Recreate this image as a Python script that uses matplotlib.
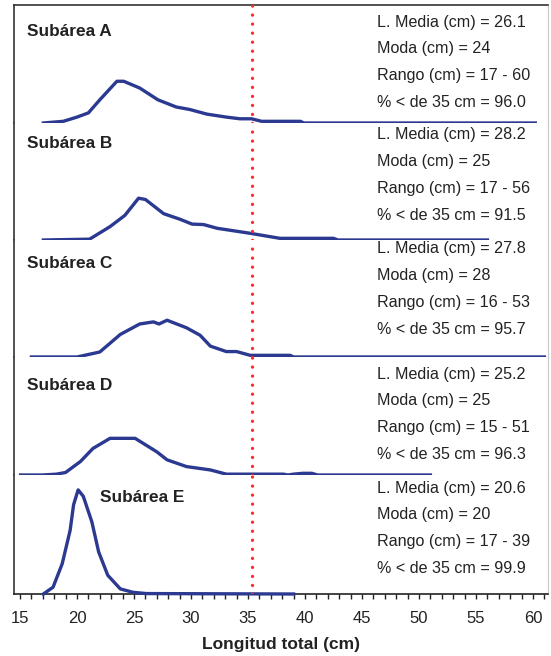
import matplotlib
matplotlib.use("Agg")
import matplotlib.pyplot as plt
from matplotlib.ticker import MultipleLocator

# length-frequency curves (x in cm, y in %)
A_x = [17.05, 18.8, 20.0, 21.0, 22.0, 23.5, 24.1, 25.5, 27.1, 28.7, 29.9, 31.4, 33.1, 34.3, 35.3, 36.2, 39.6, 39.9, 60.2]
A_y = [0, 0.4, 1.4, 2.4, 5.5, 9.9, 9.9, 8.3, 5.5, 3.8, 3.2, 2.1, 1.4, 1.0, 1.0, 0.4, 0.4, 0, 0]

B_x = [17.05, 21.1, 22.9, 24.2, 25.4, 26.0, 27.6, 29.0, 30.1, 31.1, 32.3, 35.2, 37.8, 42.5, 42.9, 56.0]
B_y = [0, 0.2, 3.2, 5.9, 10.0, 9.7, 6.3, 5.0, 3.8, 3.7, 2.8, 1.6, 0.4, 0.4, 0, 0]

C_x = [16.0, 20.0, 22.0, 23.8, 25.5, 26.7, 27.2, 27.9, 29.6, 30.8, 31.7, 33.1, 34.0, 35.2, 38.7, 39.0, 61.0]
C_y = [0, 0, 1.2, 5.4, 7.9, 8.4, 7.9, 8.8, 7.0, 5.2, 2.6, 1.3, 1.3, 0.4, 0.4, 0, 0]

D_x = [15.05, 17.0, 18.2, 19.0, 20.3, 21.4, 22.9, 25.1, 27.0, 27.9, 29.6, 31.7, 33.1, 38.1, 38.5, 39.0, 39.8, 40.6, 41.1, 51.0]
D_y = [0, 0, 0.2, 0.6, 3.2, 6.3, 8.7, 8.7, 5.5, 3.6, 2.0, 1.2, 0.2, 0.2, 0, 0.2, 0.4, 0.4, 0, 0]

E_x = [17.05, 17.9, 18.7, 19.4, 19.7, 20.1, 20.55, 21.3, 21.9, 22.7, 23.8, 24.9, 26.1, 39.0]
E_y = [0, 1.6, 7.1, 15.0, 21.0, 24.5, 23.0, 17.0, 9.9, 4.4, 1.2, 0.4, 0.1, 0]

zonas = ['Subárea A', 'Subárea B', 'Subárea C', 'Subárea D', 'Subárea E']
media = [26.1, 28.2, 27.8, 25.2, 20.6]
moda = [24, 25, 28, 25, 20]
rango = ['17 - 60', '17 - 56', '16 - 53', '15 - 51', '17 - 39']
pct = [96.0, 91.5, 95.7, 96.3, 99.9]
talla_ref = 35.35

curvas = [(A_x, A_y), (B_x, B_y), (C_x, C_y), (D_x, D_y), (E_x, E_y)]

W, H = 551, 656
fig = plt.figure(figsize=(W / 100, H / 100), dpi=100)

# panel edges in pixels (top of each panel, plus the bottom axis)
tops = [5, 123, 240, 357, 475, 594]
left, right = 14, 548
lab_off = [27, 21, 24, 28, 22]      # label centre below panel top (px)
lab_x = [27, 27, 27, 27, 100]
txt_off = [17, 12, 9, 17, 13]       # first stats line below panel top (px)

azul = '#2b3990'
fuente = 'Liberation Sans'

for i, (xs, ys) in enumerate(curvas):
    y0, y1 = tops[i], tops[i + 1]
    ax = fig.add_axes([left / W, 1 - y1 / H, (right - left) / W, (y1 - y0) / H])
    ax.set_xlim(14.474, 61.316)
    ax.set_ylim(0, 28)
    ax.plot(xs, ys, color=azul, lw=2.4, clip_on=False, zorder=3)
    ax.axvline(talla_ref, color='#ff2a2a', lw=2.4, linestyle=(0, (0.01, 2.7)),
               dash_capstyle='round', zorder=4)

    ax.spines['left'].set_color('#333333')
    ax.spines['left'].set_linewidth(1.2)
    ax.spines['right'].set_color('#c8c8c8')
    ax.spines['right'].set_linewidth(0.8)
    if i == 0:
        ax.spines['top'].set_color('#333333')
        ax.spines['top'].set_linewidth(1.2)
    else:
        ax.spines['top'].set_visible(False)
    ax.set_yticks([])

    if i < 4:
        ax.spines['bottom'].set_color('#dddddd')
        ax.spines['bottom'].set_linewidth(0.8)
        ax.set_xticks([])
    else:
        ax.spines['bottom'].set_color('#222222')
        ax.spines['bottom'].set_linewidth(1.2)
        ax.xaxis.set_major_locator(MultipleLocator(5))
        ax.xaxis.set_minor_locator(MultipleLocator(1))
        ax.tick_params(axis='x', which='both', direction='out', length=3.5,
                       width=1, color='#222222')
        ax.tick_params(axis='x', which='major', pad=9)
        for t in ax.get_xticklabels():
            t.set_family(fuente)
            t.set_fontsize(12)
            t.set_color('#222222')
        ax.set_xlabel('Longitud total (cm)', fontsize=12.5, fontweight='bold',
                      family=fuente, color='#222222', labelpad=8)

    ax.annotate(zonas[i], xy=(0, 1), xycoords='axes fraction',
                xytext=(lab_x[i] - left, -lab_off[i]), textcoords='offset pixels',
                ha='left', va='center', fontsize=12.4, fontweight='bold',
                family=fuente, color='#222222')

    lineas = ['L. Media (cm) = %.1f' % media[i],
              'Moda (cm) = %d' % moda[i],
              'Rango (cm) = %s' % rango[i],
              '% < de 35 cm = ' + '%.1f' % pct[i]]
    for k, s in enumerate(lineas):
        ax.annotate(s, xy=(0, 1), xycoords='axes fraction',
                    xytext=(377 - left, -(txt_off[i] + 26.7 * k)),
                    textcoords='offset pixels', ha='left', va='center',
                    fontsize=11.6, family=fuente, color='#222222')

fig.savefig('out.png', dpi=100)
